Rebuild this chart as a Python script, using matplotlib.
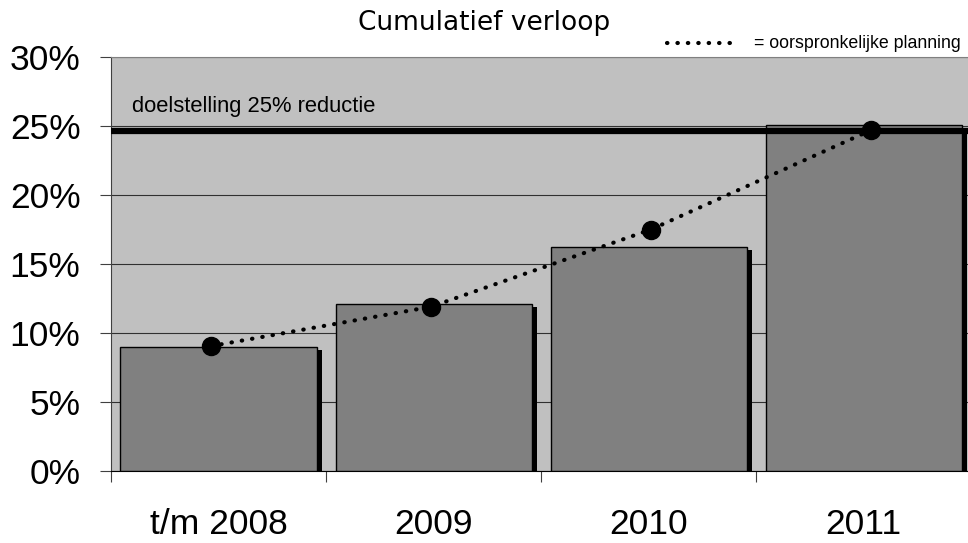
import numpy as np
import matplotlib
matplotlib.use("Agg")
import matplotlib.pyplot as plt
from matplotlib.lines import Line2D

categories = ['t/m 2008', '2009', '2010', '2011']
actual = [9.0, 12.1, 16.25, 25.1]      # cumulatief gerealiseerd (%)
planning = [9.05, 11.9, 17.5, 24.7]    # oorspronkelijke planning (%)
target = 24.65                          # doelstelling
yticks = [0, 5, 10, 15, 20, 25, 30]

plt.rcParams['font.family'] = ['Liberation Sans', 'DejaVu Sans']

W, H = 968, 543
fig = plt.figure(figsize=(W / 100, H / 100), dpi=100)
ax = fig.add_axes([111 / W, (H - 471) / H, 860 / W, 414 / H])
ax.set_facecolor('#c0c0c0')

x = np.arange(len(categories))
bw = 196 / 215
# schaduw rechts van de balken
ax.bar(x + 5 / 215, np.array(actual) - 0.22, width=bw, color='black', zorder=2)
ax.bar(x, actual, width=bw, color='#808080', edgecolor='black', linewidth=1, zorder=3)

ax.axhline(target, color='black', linewidth=4.5, zorder=4)
ax.text(-0.5 + 21 / 215, 26.04, 'doelstelling 25% reductie', fontsize=15.8,
        va='baseline', ha='left', zorder=5)

ax.set_xlim(-0.5, 3.5)
ax.set_ylim(0, 30)
ax.set_yticks(yticks)
ax.set_yticklabels([f'{v}%' for v in yticks], fontsize=25.5)
ax.yaxis.grid(True, color='#303030', linewidth=0.8, zorder=1)
ax.set_axisbelow(True)
ax.tick_params(axis='y', length=8, width=0.8, color='#404040', pad=14)

ax.set_xticks(np.arange(-0.5, 3.5, 1))
ax.set_xticklabels([])
ax.set_xticks(x, minor=True)
ax.set_xticklabels(categories, minor=True, fontsize=25.5)
ax.tick_params(axis='x', which='major', length=8, width=0.8, color='#404040')
ax.tick_params(axis='x', which='minor', length=0, pad=27)

for s in ['top', 'right']:
    ax.spines[s].set_visible(False)
ax.spines['left'].set_color('#404040')
ax.spines['bottom'].set_color('black')
ax.spines['top'].set_visible(True)
ax.spines['top'].set_color('#808080')

# planning op tweede x-as
ax2 = ax.twiny()
ax2.set_xlim(-0.4545, 3.4545)
ax2.set_ylim(0, 30)
ax2.plot(x, planning, color='black', linewidth=3, linestyle=(0, (0.1, 2.4)),
         dash_capstyle='round', zorder=6)
ax2.plot(x, planning, color='black', linestyle='None', marker='o', markersize=13, zorder=7)
ax2.set_xticks([])
for s in ax2.spines.values():
    s.set_visible(False)

fig.text(484 / W, 1 - 23 / H, 'Cumulatief verloop', fontsize=19, family='DejaVu Sans',
         ha='center', va='center')
fig.add_artist(Line2D([667 / W, 737 / W], [1 - 43 / H, 1 - 43 / H], color='black',
                      linewidth=3, linestyle=(0, (0.1, 2.4)), dash_capstyle='round'))
fig.text(754 / W, 1 - 43 / H, '= oorspronkelijke planning', fontsize=12.8,
         ha='left', va='center')

fig.savefig('out.png', dpi=100)
